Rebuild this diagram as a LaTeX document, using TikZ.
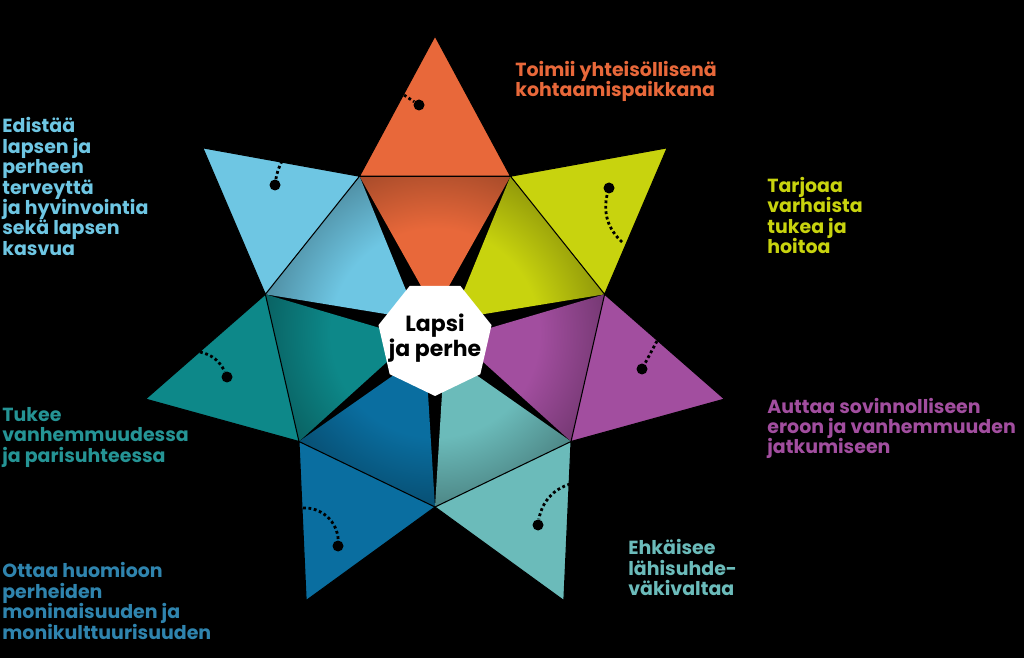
\documentclass[tikz,border=0pt]{standalone}
\usepackage{fontspec}
\setmainfont{Poppins}
\usepackage{tikz}
\usetikzlibrary{calc,shapes.geometric}

\definecolor{cOrange}{HTML}{E8683A}
\definecolor{cYellow}{HTML}{C8D30E}
\definecolor{cPurple}{HTML}{A24E9F}
\definecolor{cMint}{HTML}{6BBBBA}
\definecolor{cBlue}{HTML}{0A6EA0}
\definecolor{cTeal}{HTML}{0D8889}
\definecolor{cSky}{HTML}{6EC6E3}
\colorlet{petal}{white}
\pgfdeclareradialshading[petal]{petalshade}{\pgfpoint{0bp}{0bp}}{color(0bp)=(petal); color(15bp)=(petal); color(25bp)=(petal!72!black); color(50bp)=(petal!72!black)}

\begin{document}
\begin{tikzpicture}[x=0.02cm,y=-0.02cm,
    arm/.style={draw=black,line width=0.6pt},
    leader/.style={line width=1.6pt,dash pattern=on 1.6pt off 1.5pt},
    knob/.style={circle,fill=black,inner sep=0pt,minimum size=0.22cm},
    caption/.style={font=\bfseries\fontsize{10.8pt}{11.6pt}\selectfont,align=left,anchor=west,inner sep=0pt}]
  \fill[black] (0,0) rectangle (1024,658);
  \coordinate (C) at (435,333);

  \foreach \c [count=\i from 0] in {cOrange,cYellow,cPurple,cMint,cBlue,cTeal,cSky} {
    \pgfmathsetmacro\a{270+\i*360/7}
    \coordinate (tip\i) at ($(C)+(\a:297)$);
    \coordinate (inL\i) at ($(C)+(\a-360/14:174)$);
    \coordinate (inR\i) at ($(C)+(\a+360/14:174)$);
    \coordinate (core\i) at ($(C)+(\a:22)$);
    \colorlet{petal}{\c}
    \begin{scope}
      \clip (inL\i) -- (inR\i) -- (core\i) -- cycle;
      \shade[shading=petalshade] (C) circle (174);
    \end{scope}
    \draw[arm,fill=\c] (inL\i) -- (tip\i) -- (inR\i) -- cycle;
  }

  \node[regular polygon,regular polygon sides=7,shape border rotate=180,fill=white,
    minimum size=2.32cm,inner sep=0pt] (hub) at (435,338) {};
  \node[align=center,inner sep=0pt,font=\bfseries\fontsize{12.5pt}{12.8pt}\selectfont] (hubText) at (hub.center) {Lapsi\\ja perhe};

  \foreach \ex/\ey/\kx/\ky/\b [count=\i from 0] in {404/95/419/105/0,622/242/609/188/30,
      657/341/642/369/0,570/484/538/525/-30,303/508/338/546/45,200/352/227/377/25,282/161/275/185/-8} {
    \coordinate (edge\i) at (\ex,\ey);
    \node[knob] (knob\i) at (\kx,\ky) {};
    \draw[leader] (edge\i) to[bend left=\b] (knob\i);
  }

  \node[caption,text=cOrange] (sayOrange) at (515,81.5) {Toimii yhteisöllisenä\\kohtaamispaikkana};
  \node[caption,text=cYellow] (sayYellow) at (767,215.5) {Tarjoaa\\varhaista\\tukea ja\\hoitoa};
  \node[caption,text=cPurple] (sayPurple) at (767,428.5) {Auttaa sovinnolliseen\\eroon ja vanhemmuuden\\jatkumiseen};
  \node[caption,text=cMint] (sayMint) at (628,567.5) {Ehkäisee\\lähisuhde-\\väkivaltaa};
  \node[caption,text=cBlue!85!white] (sayBlue) at (2,601) {Ottaa huomioon\\perheiden\\moninaisuuden ja\\monikulttuurisuuden};
  \node[caption,text=cTeal!90!white] (sayTeal) at (2,437.5) {Tukee\\vanhemmuudessa\\ja parisuhteessa};
  \node[caption,text=cSky] (saySky) at (2,186.5) {Edistää\\lapsen ja\\perheen\\terveyttä\\ja hyvinvointia\\sekä lapsen\\kasvua};
\end{tikzpicture}
\end{document}
